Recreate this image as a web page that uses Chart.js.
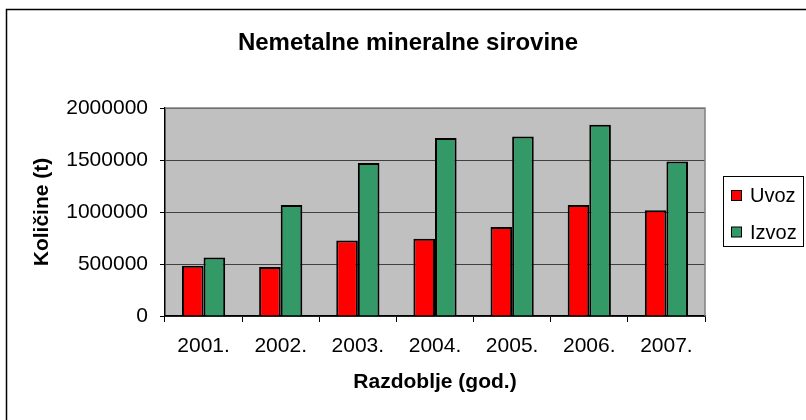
<!DOCTYPE html>
<html>
<head>
<meta charset="utf-8">
<script src="https://cdn.jsdelivr.net/npm/chart.js@4/dist/chart.umd.min.js"></script>
<style>
html,body{margin:0;padding:0;background:#fff;}
canvas{display:block;}
</style>
</head>
<body>
<canvas id="c" width="806" height="420"></canvas>
<script>
const categories = ['2001.', '2002.', '2003.', '2004.', '2005.', '2006.', '2007.'];
const uvoz = [482000, 470000, 727000, 742000, 855000, 1067000, 1016000];
const izvoz = [563000, 1067000, 1470000, 1711000, 1726000, 1839000, 1485000];
const seriesNames = ['Uvoz', 'Izvoz'];
const chartTitle = 'Nemetalne mineralne sirovine';
const yTitle = 'Količine (t)';
const xTitle = 'Razdoblje (god.)';

const FONT = "'Liberation Sans', Arial, sans-serif";
const RED = '#FF0000';
const GREEN = '#339966';

const decor = {
  id: 'decor',
  beforeDraw(chart) {
    const {ctx, chartArea: a} = chart;
    ctx.save();
    ctx.fillStyle = '#fff';
    ctx.fillRect(0, 0, chart.width, chart.height);
    ctx.fillStyle = '#C0C0C0';
    ctx.fillRect(a.left, a.top, a.right - a.left, a.bottom - a.top);
    ctx.strokeStyle = '#000';
    ctx.lineWidth = 1.5;
    ctx.beginPath();
    ctx.moveTo(6.5, chart.height + 2);
    ctx.lineTo(6.5, 9.5);
    ctx.lineTo(chart.width + 2, 9.5);
    ctx.stroke();
    ctx.restore();
  },
  beforeDatasetsDraw(chart) {
    const {ctx, chartArea: a} = chart;
    ctx.save();
    ctx.strokeStyle = '#808080';
    ctx.lineWidth = 1.5;
    ctx.beginPath();
    ctx.moveTo(a.left, a.top);
    ctx.lineTo(a.right, a.top);
    ctx.lineTo(a.right, a.bottom);
    ctx.stroke();
    ctx.restore();
  },
  afterDraw(chart) {
    const {ctx} = chart;
    ctx.save();
    ctx.fillStyle = '#000';
    ctx.font = "bold 24px " + FONT;
    ctx.textAlign = 'center';
    ctx.textBaseline = 'middle';
    ctx.fillText(chartTitle, 408, 43);
    ctx.strokeStyle = '#000';
    ctx.lineWidth = 1;
    ctx.strokeRect(723.5, 176.5, 80, 70);
    const colors = [RED, GREEN];
    const ys = [195.5, 232];
    ctx.font = "20px " + FONT;
    ctx.textAlign = 'left';
    for (let i = 0; i < seriesNames.length; i++) {
      ctx.fillStyle = colors[i];
      ctx.fillRect(731.5, ys[i] - 5, 10, 10);
      ctx.strokeRect(731.5, ys[i] - 5, 10, 10);
      ctx.fillStyle = '#000';
      ctx.fillText(seriesNames[i], 750, ys[i] + 1);
    }
    ctx.restore();
  }
};

new Chart(document.getElementById('c'), {
  type: 'bar',
  data: {
    labels: categories,
    datasets: [
      {label: seriesNames[0], data: uvoz, backgroundColor: RED, borderColor: '#000', borderWidth: 2},
      {label: seriesNames[1], data: izvoz, backgroundColor: GREEN, borderColor: '#000', borderWidth: 2}
    ]
  },
  options: {
    responsive: false,
    devicePixelRatio: 1,
    animation: false,
    layout: {padding: {left: 7, top: 108, right: 101, bottom: 20}},
    datasets: {bar: {categoryPercentage: 0.56, barPercentage: 1.0}},
    plugins: {legend: {display: false}, title: {display: false}, tooltip: {enabled: false}},
    scales: {
      x: {
        grid: {offset: true, drawOnChartArea: false, drawTicks: true, tickLength: 6, tickColor: '#000'},
        border: {display: true, color: '#000', width: 1.5},
        ticks: {font: {family: FONT, size: 21}, color: '#000', padding: 12, maxRotation: 0, autoSkip: false},
        title: {display: true, text: xTitle, color: '#000', font: {family: FONT, size: 21, weight: 'bold'}, padding: {top: 0, bottom: 5}},
        afterFit(s) { s.height = 84; }
      },
      y: {
        min: 0, max: 2000000,
        grid: {color: '#404040', lineWidth: 1, tickLength: 5, tickColor: '#000'},
        border: {display: true, color: '#000', width: 1.5},
        ticks: {stepSize: 500000, font: {family: FONT, size: 21}, color: '#000', padding: 12, callback: v => String(v)},
        title: {display: true, text: yTitle, color: '#000', font: {family: FONT, size: 21, weight: 'bold'}, padding: {top: 23, bottom: 0}},
        afterFit(s) { s.width = 158; }
      }
    }
  },
  plugins: [decor]
});
</script>
</body>
</html>
